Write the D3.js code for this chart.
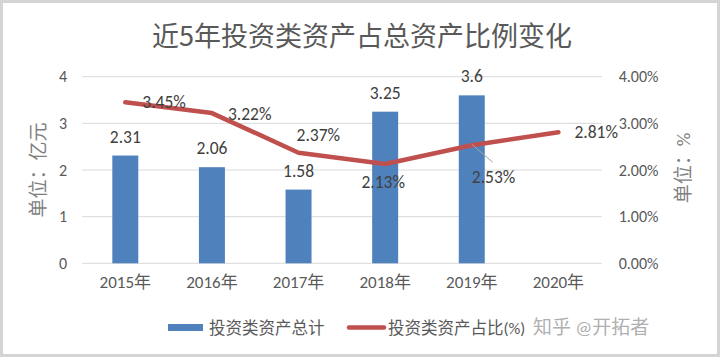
<!DOCTYPE html>
<html><head><meta charset="utf-8">
<script src="https://cdn.jsdelivr.net/npm/d3@7"></script>
<style>
html,body{margin:0;padding:0;background:#fff;}
svg text{font-family:Carlito,Lato,"Noto Sans CJK SC",sans-serif;}
</style></head>
<body><svg id="c" width="720" height="357"></svg>
<script>
const title = "近5年投资类资产占总资产比例变化";
const years = ["2015年","2016年","2017年","2018年","2019年","2020年"];
const totals = [2.31, 2.06, 1.58, 3.25, 3.6, null];
const ratios = [3.45, 3.22, 2.37, 2.13, 2.53, 2.81];
const leftTicks = [0,1,2,3,4];
const rightTicks = [0,1,2,3,4];
const leftTitle = "单位：亿元";
const rightTitle = "单位：%";
const legendNames = ["投资类资产总计","投资类资产占比(%)"];
const watermark = "知乎 @开拓者";

// label placement for line labels: [dx, dy, anchor]
const ratioLabelPlace = [[17,0,"start"],[16,1,"start"],[-2,-18,"start"],[-2,18,"middle"],[0,32,"start"],[16,0,"start"]];

const svg = d3.select("#c");
const W=720,H=357;
svg.append("rect").attr("x",1.5).attr("y",1.5).attr("width",W-3).attr("height",H-3)
  .attr("fill","#fff").attr("stroke","#d4d4d4").attr("stroke-width",3);

const L=82, R=601.7, T=76.7, B=263.3;
const x = d3.scaleBand().domain(years).range([L,R]).padding(0);
const yL = d3.scaleLinear().domain([0,4]).range([B,T]);
const yR = d3.scaleLinear().domain([0,4]).range([B,T]);
const barW = x.bandwidth()*0.3;
const cx = d => x(d)+x.bandwidth()/2;

// gridlines
svg.append("g").selectAll("line").data(leftTicks).join("line")
  .attr("x1",L).attr("x2",R).attr("y1",d=>yL(d)).attr("y2",d=>yL(d))
  .attr("stroke","#d9d9d9").attr("stroke-width",1);

// title
svg.append("text").attr("x",362).attr("y",34).attr("text-anchor","middle")
  .attr("dominant-baseline","central").attr("fill","#595959")
  .style("font-size","27px").style("font-family",'"Noto Sans CJK SC",sans-serif')
  .text(title);

// left axis
const axL = d3.axisLeft(yL).tickValues(leftTicks).tickFormat(d3.format("d")).tickSize(0).tickPadding(15);
const gL = svg.append("g").attr("transform",`translate(${L},0)`).call(axL);
gL.select(".domain").remove();
gL.selectAll("text").attr("fill","#595959").style("font-size","16px");

// right axis
const axR = d3.axisRight(yR).tickValues(rightTicks).tickFormat(d=>d3.format(".2f")(d)+"%").tickSize(0).tickPadding(17);
const gR = svg.append("g").attr("transform",`translate(${R},0)`).call(axR);
gR.select(".domain").remove();
gR.selectAll("text").attr("fill","#595959").style("font-size","16px");

// x axis
const axX = d3.axisBottom(x).tickSize(0).tickPadding(13);
const gX = svg.append("g").attr("transform",`translate(0,${B})`).call(axX);
gX.select(".domain").remove();
gX.selectAll("text").attr("fill","#595959").style("font-size","17px");

// axis titles
svg.append("text").attr("transform","translate(38,170) rotate(-90)")
  .attr("text-anchor","middle").attr("dominant-baseline","central")
  .attr("fill","#7f7f7f").style("font-size","19px").text(leftTitle);
svg.append("text").attr("transform","translate(683,168) rotate(-90)")
  .attr("text-anchor","middle").attr("dominant-baseline","central")
  .attr("fill","#7f7f7f").style("font-size","19px").text(rightTitle);

// bars
const barData = years.map((y,i)=>({y, v: totals[i]})).filter(d=>d.v!=null);
svg.append("g").selectAll("rect").data(barData).join("rect")
  .attr("x",d=>cx(d.y)-barW/2).attr("width",barW)
  .attr("y",d=>yL(d.v)).attr("height",d=>yL(0)-yL(d.v))
  .attr("fill","#4f81bd");
svg.append("g").selectAll("text").data(barData).join("text")
  .attr("x",d=>cx(d.y)).attr("y",d=>yL(d.v)-19)
  .attr("text-anchor","middle").attr("dominant-baseline","central")
  .attr("fill","#404040").style("font-size","17.5px")
  .text(d=>d.v);

// line
const lineData = years.map((y,i)=>({y, v: ratios[i], i}));
const line = d3.line().x(d=>cx(d.y)).y(d=>yR(d.v));
svg.append("path").datum(lineData).attr("d",line)
  .attr("fill","none").attr("stroke","#c0504d").attr("stroke-width",4.5)
  .attr("stroke-linejoin","round").attr("stroke-linecap","round");

// leader line for 2019 label
const p19 = lineData[4];
svg.append("line").attr("x1",cx(p19.y)).attr("y1",yR(p19.v)-1)
  .attr("x2",cx(p19.y)+21).attr("y2",yR(p19.v)+17)
  .attr("stroke","#a6a6a6").attr("stroke-width",1);

svg.append("g").selectAll("text").data(lineData).join("text")
  .attr("x",d=>cx(d.y)+ratioLabelPlace[d.i][0])
  .attr("y",d=>yR(d.v)+ratioLabelPlace[d.i][1])
  .attr("text-anchor",d=>ratioLabelPlace[d.i][2])
  .attr("dominant-baseline","central")
  .attr("fill","#404040").style("font-size","17.5px")
  .text(d=>d3.format(".2f")(d.v)+"%");

// legend
const lg = svg.append("g");
lg.append("rect").attr("x",168).attr("y",324).attr("width",35).attr("height",7).attr("fill","#4f81bd");
lg.append("text").attr("x",209).attr("y",327.5).attr("dominant-baseline","central")
  .attr("fill","#595959").style("font-size","16.5px").text(legendNames[0]);
lg.append("line").attr("x1",349).attr("x2",384).attr("y1",327.5).attr("y2",327.5)
  .attr("stroke","#c0504d").attr("stroke-width",4.5).attr("stroke-linecap","round");
lg.append("text").attr("x",388).attr("y",327.5).attr("dominant-baseline","central")
  .attr("fill","#595959").style("font-size","16.5px").text(legendNames[1]);
svg.append("text").attr("x",533).attr("y",327.5).attr("dominant-baseline","central")
  .attr("fill","#b0b0b0").style("font-size","19px").text(watermark);
</script></body></html>
